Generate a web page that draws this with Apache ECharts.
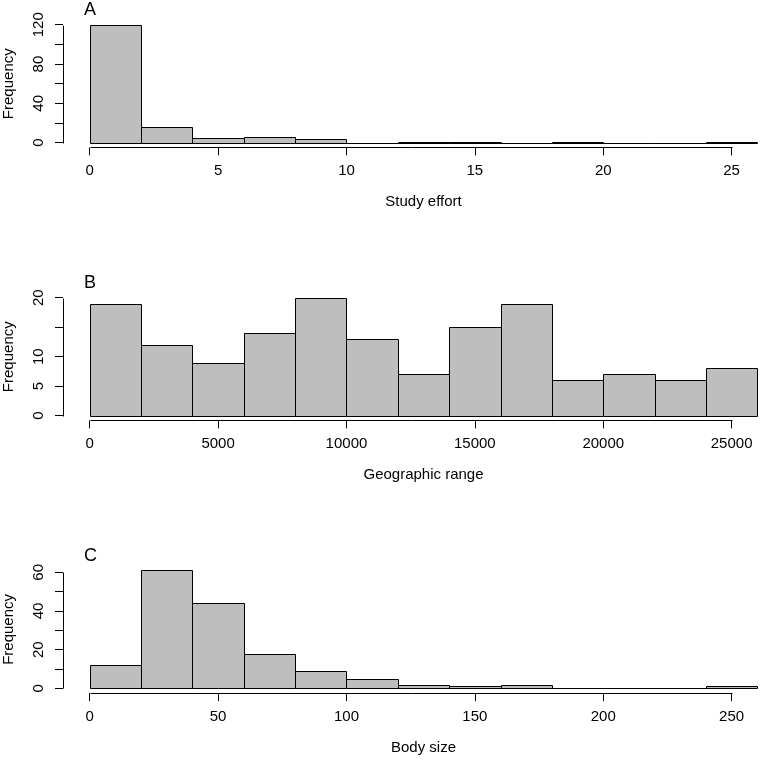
<!DOCTYPE html>
<html>
<head>
<meta charset="utf-8">
<script src="https://cdn.jsdelivr.net/npm/echarts@6/dist/echarts.min.js"></script>
<style>html,body{margin:0;padding:0;background:#fff}#c{width:761px;height:759px}</style>
</head>
<body>
<div id="c"></div>
<script>
// ---- Data ----
const effortBreaks = [0, 2, 4, 6, 8, 10, 12, 14, 16, 18, 20, 22, 24, 26];
const effortCounts = [120, 16, 5, 6, 4, 0, 1, 1, 0, 1, 0, 0, 1];
const effortXTicks = [0, 5, 10, 15, 20, 25];
const effortYTicks = [0, 20, 40, 60, 80, 100, 120];
const effortYLabels = [0, 40, 80, 120];

const rangeBreaks = [0, 2000, 4000, 6000, 8000, 10000, 12000, 14000, 16000, 18000, 20000, 22000, 24000, 26000];
const rangeCounts = [19, 12, 9, 14, 20, 13, 7, 15, 19, 6, 7, 6, 8];
const rangeXTicks = [0, 5000, 10000, 15000, 20000, 25000];
const rangeYTicks = [0, 5, 10, 15, 20];
const rangeYLabels = [0, 5, 10, 20];

const sizeBreaks = [0, 20, 40, 60, 80, 100, 120, 140, 160, 180, 200, 220, 240, 260];
const sizeCounts = [12, 61, 44, 18, 9, 5, 2, 1, 2, 0, 0, 0, 1];
const sizeXTicks = [0, 50, 100, 150, 200, 250];
const sizeYTicks = [0, 10, 20, 30, 40, 50, 60];
const sizeYLabels = [0, 20, 40, 60];

const panels = [
  {letter: 'A', xlab: 'Study effort', breaks: effortBreaks, counts: effortCounts, xt: effortXTicks, yt: effortYTicks, yl: effortYLabels},
  {letter: 'B', xlab: 'Geographic range', breaks: rangeBreaks, counts: rangeCounts, xt: rangeXTicks, yt: rangeYTicks, yl: rangeYLabels},
  {letter: 'C', xlab: 'Body size', breaks: sizeBreaks, counts: sizeCounts, xt: sizeXTicks, yt: sizeYTicks, yl: sizeYLabels}
];

// ---- Layout ----
const FONT = 'Liberation Sans';
const FS = 15;
const gridTops = [20, 293, 565.7];
const gridH = 127.4;
const titleTops = [1, 274, 547];

const option = {
  animation: false,
  backgroundColor: '#ffffff',
  textStyle: {fontFamily: FONT},
  title: [], grid: [], xAxis: [], yAxis: [], series: []
};

panels.forEach((p, i) => {
  const b0 = p.breaks[0], bn = p.breaks[p.breaks.length - 1];
  const xExt = 0.04 * (bn - b0);
  const yMax = Math.max(...p.counts, p.yt[p.yt.length - 1]);
  const yExt = 0.04 * yMax;
  const xmin = b0 - xExt, xmax = bn + xExt, ymin = -yExt, ymax = yMax + yExt;

  option.title.push({
    text: p.letter, left: 84, top: titleTops[i], padding: 0,
    textStyle: {fontFamily: FONT, fontSize: 18, fontWeight: 'normal', color: '#000'}
  });
  option.grid.push({left: 63, top: gridTops[i], width: 721, height: gridH, containLabel: false, outerBoundsMode: 'none'});
  option.xAxis.push({
    type: 'value', gridIndex: i, min: xmin, max: xmax, position: 'bottom',
    name: p.xlab, nameLocation: 'middle', nameGap: 47,
    nameTextStyle: {fontFamily: FONT, fontSize: FS, color: '#000'},
    axisLine: {show: false, onZero: false},
    axisTick: {show: true, length: 8, customValues: p.xt, lineStyle: {color: '#000', width: 1}},
    axisLabel: {show: true, customValues: p.xt, margin: 16, fontFamily: FONT, fontSize: FS, color: '#000',
      formatter: v => String(v)},
    splitLine: {show: false}
  });
  option.yAxis.push({
    type: 'value', gridIndex: i, min: ymin, max: ymax, position: 'left',
    name: 'Frequency', nameLocation: 'middle', nameGap: 47, nameRotate: 90,
    nameTextStyle: {fontFamily: FONT, fontSize: FS, color: '#000'},
    axisLine: {show: false, onZero: false},
    axisTick: {show: true, length: 8, customValues: p.yt, lineStyle: {color: '#000', width: 1}},
    axisLabel: {show: true, customValues: p.yl, rotate: 90, margin: 17, fontFamily: FONT, fontSize: FS, color: '#000',
      formatter: v => String(v)},
    splitLine: {show: false}
  });

  const data = p.counts.map((c, k) => [p.breaks[k], p.breaks[k + 1], c]);
  option.series.push({
    type: 'custom', xAxisIndex: i, yAxisIndex: i, clip: false,
    data: data,
    renderItem: function (params, api) {
      const a = api.coord([api.value(0), api.value(2)]);
      const b = api.coord([api.value(1), 0]);
      const x0 = Math.round(a[0]) + 0.5, x1 = Math.round(b[0]) + 0.5;
      const y0 = Math.round(a[1]) + 0.5, y1 = Math.round(b[1]) + 0.5;
      return {
        type: 'rect',
        shape: {x: x0, y: y0, width: x1 - x0, height: y1 - y0},
        style: {fill: '#bebebe', stroke: '#000', lineWidth: 1}
      };
    }
  });

  // axis lines spanning first to last tick (R style)
  option.series.push({
    type: 'custom', xAxisIndex: i, yAxisIndex: i, clip: false, silent: true,
    data: [[p.xt[0], p.xt[p.xt.length - 1], p.yt[0], p.yt[p.yt.length - 1]]],
    renderItem: function (params, api) {
      const xa = api.coord([api.value(0), ymin]);
      const xb = api.coord([api.value(1), ymin]);
      const ya = api.coord([xmin, api.value(2)]);
      const yb = api.coord([xmin, api.value(3)]);
      const r = v => Math.round(v) + 0.5;
      return {
        type: 'group',
        children: [
          {type: 'line', shape: {x1: r(xa[0]), y1: r(xa[1]), x2: r(xb[0]), y2: r(xb[1])}, style: {stroke: '#000', lineWidth: 1}},
          {type: 'line', shape: {x1: r(ya[0]), y1: r(ya[1]), x2: r(yb[0]), y2: r(yb[1])}, style: {stroke: '#000', lineWidth: 1}}
        ]
      };
    }
  });
});

const chart = echarts.init(document.getElementById('c'), null, {renderer: 'canvas'});
chart.setOption(option);
</script>
</body>
</html>
